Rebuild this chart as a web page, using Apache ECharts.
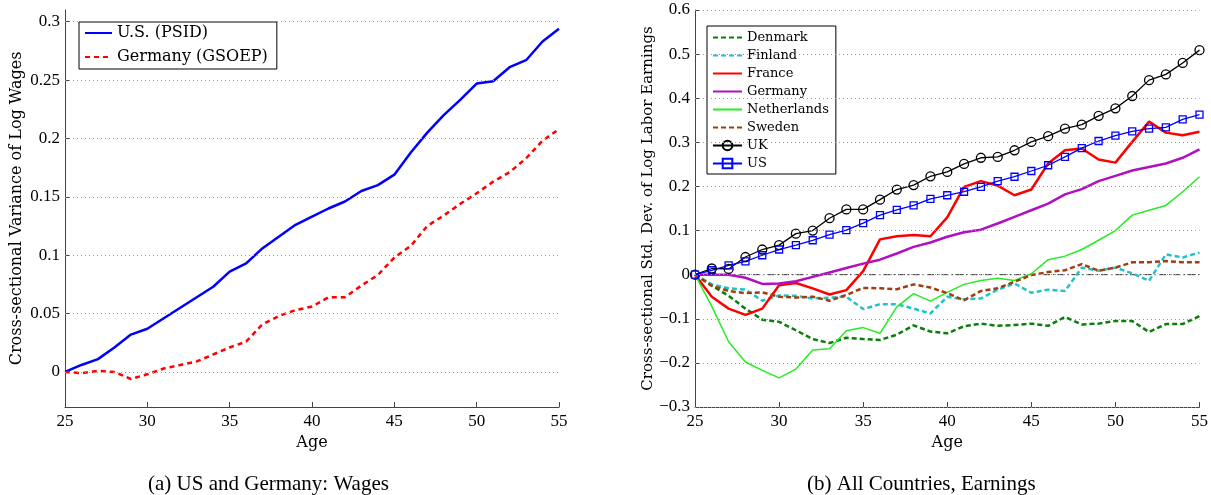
<!DOCTYPE html>
<html>
<head>
<meta charset="utf-8">
<script src="https://cdn.jsdelivr.net/npm/echarts@6/dist/echarts.min.js"></script>
<style>
  html, body { margin: 0; padding: 0; background: #fff; }
  #container { width: 1211px; height: 495px; }
</style>
</head>
<body>
<div id="container"></div>
<script>
// ages on the x axis (both panels)
var ages = [25, 26, 27, 28, 29, 30, 31, 32, 33, 34, 35, 36, 37, 38, 39, 40,
            41, 42, 43, 44, 45, 46, 47, 48, 49, 50, 51, 52, 53, 54, 55];
var xTicks = [25, 30, 35, 40, 45, 50, 55];

// panel (a): variance of log wages
var usWages = [0, 0.006, 0.011, 0.021, 0.032, 0.037, 0.046, 0.055, 0.064, 0.073, 0.086,
               0.093, 0.106, 0.116, 0.126, 0.133, 0.140, 0.146, 0.155, 0.160, 0.169,
               0.188, 0.205, 0.220, 0.233, 0.247, 0.249, 0.261, 0.267, 0.283, 0.294];
var deWages = [0, -0.001, 0.001, 0, -0.006, -0.002, 0.003, 0.006, 0.009, 0.015, 0.021,
               0.026, 0.041, 0.048, 0.053, 0.056, 0.064, 0.064, 0.074, 0.083, 0.098,
               0.108, 0.125, 0.134, 0.144, 0.153, 0.163, 0.171, 0.183, 0.198, 0.208];
var leftTicks = [0, 0.05, 0.1, 0.15, 0.2, 0.25, 0.3];

// panel (b): std. dev. of log labor earnings
var denmark = [0, -0.025, -0.048, -0.077, -0.102, -0.107, -0.126, -0.146, -0.155, -0.143, -0.146,
               -0.148, -0.136, -0.115, -0.129, -0.133, -0.117, -0.111, -0.116, -0.114, -0.111,
               -0.116, -0.096, -0.113, -0.111, -0.105, -0.105, -0.130, -0.112, -0.112, -0.094];
var finland = [0, -0.022, -0.031, -0.034, -0.059, -0.047, -0.048, -0.054, -0.052, -0.050, -0.078,
               -0.067, -0.067, -0.077, -0.088, -0.050, -0.056, -0.054, -0.034, -0.020, -0.041,
               -0.034, -0.037, 0.016, 0.009, 0.016, 0.003, -0.014, 0.046, 0.039, 0.050];
var france = [0, -0.050, -0.077, -0.091, -0.077, -0.024, -0.019, -0.031, -0.045, -0.035, 0.008,
              0.080, 0.087, 0.090, 0.087, 0.130, 0.199, 0.212, 0.202, 0.180, 0.193,
              0.252, 0.282, 0.286, 0.261, 0.254, 0.301, 0.347, 0.322, 0.316, 0.324];
var germany = [0, 0, 0, -0.007, -0.021, -0.020, -0.015, -0.005, 0.005, 0.015, 0.025,
               0.034, 0.048, 0.063, 0.073, 0.086, 0.096, 0.102, 0.116, 0.131, 0.146,
               0.161, 0.182, 0.194, 0.212, 0.224, 0.236, 0.244, 0.252, 0.265, 0.284];
var netherlands = [0, -0.072, -0.152, -0.198, -0.217, -0.234, -0.214, -0.171, -0.168, -0.127, -0.120,
                   -0.133, -0.073, -0.043, -0.060, -0.040, -0.022, -0.013, -0.008, -0.013, 0.002,
                   0.034, 0.042, 0.057, 0.078, 0.100, 0.135, 0.146, 0.157, 0.188, 0.222];
var sweden = [0, -0.025, -0.037, -0.042, -0.040, -0.050, -0.052, -0.050, -0.059, -0.046, -0.030,
              -0.031, -0.033, -0.022, -0.029, -0.042, -0.058, -0.037, -0.031, -0.016, -0.001,
              0.006, 0.010, 0.024, 0.009, 0.016, 0.028, 0.028, 0.031, 0.028, 0.028];
var uk = [0, 0.014, 0.013, 0.040, 0.057, 0.067, 0.093, 0.100, 0.128, 0.148, 0.148,
          0.170, 0.193, 0.203, 0.223, 0.233, 0.251, 0.265, 0.267, 0.282, 0.301,
          0.314, 0.331, 0.340, 0.360, 0.377, 0.405, 0.441, 0.454, 0.480, 0.509];
var us = [0, 0.010, 0.021, 0.030, 0.044, 0.057, 0.067, 0.078, 0.091, 0.101, 0.117,
          0.135, 0.147, 0.157, 0.172, 0.180, 0.188, 0.199, 0.212, 0.222, 0.235,
          0.248, 0.267, 0.287, 0.303, 0.315, 0.325, 0.331, 0.334, 0.352, 0.363];
var rightTicks = [-0.3, -0.2, -0.1, 0, 0.1, 0.2, 0.3, 0.4, 0.5, 0.6];
var zeroLine = [0, 0];

function pairs(vals) {
    return vals.map(function (v, i) { return [ages[i], v]; });
}
function fmt(v) {
    var s = String(Number(v.toFixed(2)));
    return s.replace('-', '\u2212');
}

var serif = 'Liberation Serif';
var cm = 'DejaVu Serif';
var axisColor = '#444';
var clear = 'rgba(0,0,0,0)';   // hides the legend dot on plain lines

function xAxisCfg(idx) {
    return {
        gridIndex: idx, type: 'value', min: 25, max: 55, interval: 5,
        name: 'Age', nameLocation: 'middle', nameGap: 18,
        nameTextStyle: { fontFamily: cm, fontSize: 16, color: '#000' },
        axisLine: { show: true, onZero: false, lineStyle: { color: axisColor, width: 1 } },
        axisTick: { show: true, inside: true, length: 5, lineStyle: { color: axisColor } },
        axisLabel: { fontFamily: serif, fontSize: 17, color: '#000', margin: 6 },
        splitLine: { show: false }
    };
}

function gridSeries(xi, ticks) {
    return {
        type: 'line', xAxisIndex: xi, yAxisIndex: xi, data: [], silent: true,
        markLine: {
            silent: true, symbol: ['none', 'none'], label: { show: false },
            lineStyle: { color: '#999', type: [1, 3], width: 1 },
            emphasis: { disabled: true },
            data: ticks.map(function (t) { return { yAxis: t }; })
        }
    };
}

function plain(name, vals, color, width, dash) {
    return {
        name: name, type: 'line', xAxisIndex: 1, yAxisIndex: 1, data: pairs(vals),
        symbol: 'none', itemStyle: { color: clear, borderWidth: 0 },
        lineStyle: { color: color, width: width, type: dash || 'solid' }
    };
}

var dom = document.getElementById('container');
var myChart = echarts.init(dom, null, { renderer: 'canvas' });

var option = {
    animation: false,
    backgroundColor: '#fff',
    grid: [
        { left: 65, right: 652, top: 10, bottom: 88 },
        { left: 695, right: 10, top: 10, bottom: 88 }
    ],
    xAxis: [xAxisCfg(0), xAxisCfg(1)],
    yAxis: [
        {
            gridIndex: 0, type: 'value', min: -0.03, max: 0.31,
            name: 'Cross-sectional Variance of Log Wages', nameLocation: 'middle', nameGap: 40,
            nameTextStyle: { fontFamily: cm, fontSize: 16, color: '#000' },
            axisLine: { show: true, onZero: false, lineStyle: { color: axisColor } },
            axisTick: { show: true, inside: true, length: 4, customValues: leftTicks, lineStyle: { color: axisColor } },
            axisLabel: { customValues: leftTicks, formatter: fmt, fontFamily: serif, fontSize: 17, color: '#000', margin: 5 },
            splitLine: { show: false }
        },
        {
            gridIndex: 1, type: 'value', min: -0.3, max: 0.6, interval: 0.1,
            name: 'Cross-sectional Std. Dev. of Log Labor Earnings', nameLocation: 'middle', nameGap: 38,
            nameTextStyle: { fontFamily: cm, fontSize: 15, color: '#000' },
            axisLine: { show: true, onZero: false, lineStyle: { color: axisColor } },
            axisTick: { show: true, inside: true, length: 4, lineStyle: { color: axisColor } },
            axisLabel: { formatter: fmt, fontFamily: serif, fontSize: 17, color: '#000', margin: 5 },
            splitLine: { show: false }
        }
    ],
    legend: [
        {
            orient: 'vertical', left: 79, top: 22,
            data: ['U.S. (PSID)', 'Germany (GSOEP)'],
            itemWidth: 27, itemHeight: 14, itemGap: 8,
            padding: [3, 9, 4, 5],
            borderColor: '#000', borderWidth: 1, backgroundColor: '#fff',
            textStyle: { fontFamily: cm, fontSize: 16, color: '#000' }
        },
        {
            orient: 'vertical', left: 707, top: 26,
            data: ['Denmark', 'Finland', 'France', 'Germany', 'Netherlands', 'Sweden', 'UK', 'US'],
            itemWidth: 29, itemHeight: 12, itemGap: 5,
            padding: [5, 7, 4, 5],
            borderColor: '#000', borderWidth: 1, backgroundColor: '#fff',
            textStyle: { fontFamily: cm, fontSize: 13, color: '#000' }
        }
    ],
    graphic: [
        { type: 'text', left: 148, top: 474, style: { text: '(a) US and Germany: Wages', fontFamily: serif, fontSize: 21, fill: '#000' } },
        { type: 'text', left: 807, top: 474, style: { text: '(b) All Countries, Earnings', fontFamily: serif, fontSize: 21, fill: '#000' } }
    ],
    series: [
        gridSeries(0, leftTicks),
        {
            name: 'U.S. (PSID)', type: 'line', xAxisIndex: 0, yAxisIndex: 0, data: pairs(usWages),
            symbol: 'none', itemStyle: { color: clear, borderWidth: 0 },
            lineStyle: { color: '#0000ff', width: 2.5 }
        },
        {
            name: 'Germany (GSOEP)', type: 'line', xAxisIndex: 0, yAxisIndex: 0, data: pairs(deWages),
            symbol: 'none', itemStyle: { color: clear, borderWidth: 0 },
            lineStyle: { color: '#ff0000', width: 2.5, type: [5, 4] }
        },
        gridSeries(1, rightTicks),
        {
            type: 'line', xAxisIndex: 1, yAxisIndex: 1, silent: true,
            data: [[25, zeroLine[0]], [55, zeroLine[1]]],
            symbol: 'none', lineStyle: { color: '#333', width: 1, type: [7, 3, 1.5, 3] }
        },
        plain('Denmark', denmark, '#0a7d0a', 2.5, [5, 3]),
        plain('Finland', finland, '#1ec4c8', 2.5, [5, 3]),
        plain('France', france, '#ff0000', 2.5),
        plain('Germany', germany, '#b010c0', 2.5),
        plain('Netherlands', netherlands, '#22ee22', 1.5),
        plain('Sweden', sweden, '#a33d0d', 2.5, [5, 3]),
        {
            name: 'UK', type: 'line', xAxisIndex: 1, yAxisIndex: 1, data: pairs(uk),
            symbol: 'circle', symbolSize: 9,
            itemStyle: { color: clear, borderColor: '#000', borderWidth: 1.3 },
            lineStyle: { color: '#000', width: 1.3 }
        },
        {
            name: 'US', type: 'line', xAxisIndex: 1, yAxisIndex: 1, data: pairs(us),
            symbol: 'rect', symbolSize: 7,
            itemStyle: { color: clear, borderColor: '#0000ff', borderWidth: 1.3 },
            lineStyle: { color: '#0000ff', width: 1.3 }
        }
    ]
};

if (option && typeof option === 'object') {
    myChart.setOption(option, true);
}
</script>
</body>
</html>
